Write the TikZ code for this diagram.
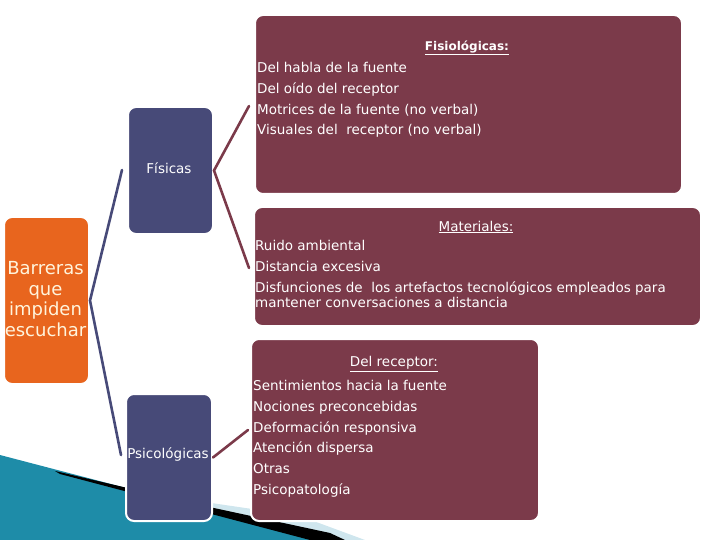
\documentclass[tikz,border=0pt]{standalone}
\usepackage{fontspec}
\setmainfont{DejaVu Sans}
\usetikzlibrary{positioning}
\definecolor{orangeb}{HTML}{E8651E}
\definecolor{blueb}{HTML}{474A78}
\definecolor{maroonb}{HTML}{7B3A4A}
\definecolor{tealb}{HTML}{1E8CA8}
\definecolor{lightb}{HTML}{CFE6EE}
\definecolor{creamt}{HTML}{FFF4DC}
\tikzset{
  box/.style={draw=white, line width=2pt, rounded corners=8pt, inner sep=0pt, anchor=north west},
  txt/.style={text=white, inner sep=0pt, font=\fontsize{13.5}{20.8}\selectfont},
  blk/.style={txt, align=left, anchor=north west},
  link/.style={line width=2.6pt, line cap=round},
}
\begin{document}
\begin{tikzpicture}[x=1pt,y=-1pt]
\useasboundingbox (0,0) rectangle (720,540);
% background decoration
\fill[tealb] (0,455) -- (130,489) -- (330,540) -- (0,540) -- cycle;
\fill[lightb] (150,494) -- (300,516) -- (365,540) -- (325,540) -- cycle;
\fill[black] (55,471) -- (200,505) -- (330,533) -- (345,540) -- (310,540) -- (200,511) -- (60,474) -- cycle;
% boxes
\node[box, fill=orangeb, minimum width=85pt, minimum height=167pt] (bar) at (3,216) {};
\node[text=creamt, align=center, font=\fontsize{18}{20.6}\selectfont, inner sep=0pt] (bart) at (45.5,299) {Barreras\\que\\impiden\\escuchar};
\node[box, fill=blueb, minimum width=85pt, minimum height=127pt] (fis) at (127,106) {};
\node[txt] (fist) at (169,168) {Físicas};
\node[box, fill=blueb, minimum width=86pt, minimum height=127pt] (psi) at (125,393) {};
\node[txt] (psit) at (168,455) {Psicológicas};
\node[box, fill=maroonb, minimum width=427pt, minimum height=179pt] (fisio) at (254,14) {};
\node[box, fill=maroonb, minimum width=447pt, minimum height=119pt] (mat) at (253,206) {};
\node[box, fill=maroonb, minimum width=288pt, minimum height=182pt] (rec) at (250,338) {};
% texts
\node[txt, font=\fontsize{12}{14}\selectfont\bfseries] (fisiot) at (467,48) {\underline{Fisiológicas:}};
\node[blk] (fisiol) at (257,62) {Del habla de la fuente\\Del oído del receptor\\Motrices de la fuente (no verbal)\\Visuales del\ \ receptor (no verbal)};
\node[txt] (matt) at (476,227) {\underline{Materiales:}};
\node[blk] (matl) at (255,240) {Ruido ambiental\\Distancia excesiva};
\node[blk, font=\fontsize{13.5}{15}\selectfont] (matl2) at (255,282) {Disfunciones de\ \ los artefactos tecnológicos empleados para\\mantener conversaciones a distancia};
\node[txt] (rect) at (394,364) {\underline{Del receptor:}};
\node[blk] (recl) at (253,380) {Sentimientos hacia la fuente\\Nociones preconcebidas\\Deformación responsiva\\Atención dispersa\\Otras\\Psicopatología};
% connectors
\draw[link, blueb] (122,170) -- (bar.east) -- (121,455);
\draw[link, maroonb] (249,106) -- (fis.east) -- (249,268);
\draw[link, maroonb] (psi.east) -- (248,430);
\end{tikzpicture}
\end{document}
